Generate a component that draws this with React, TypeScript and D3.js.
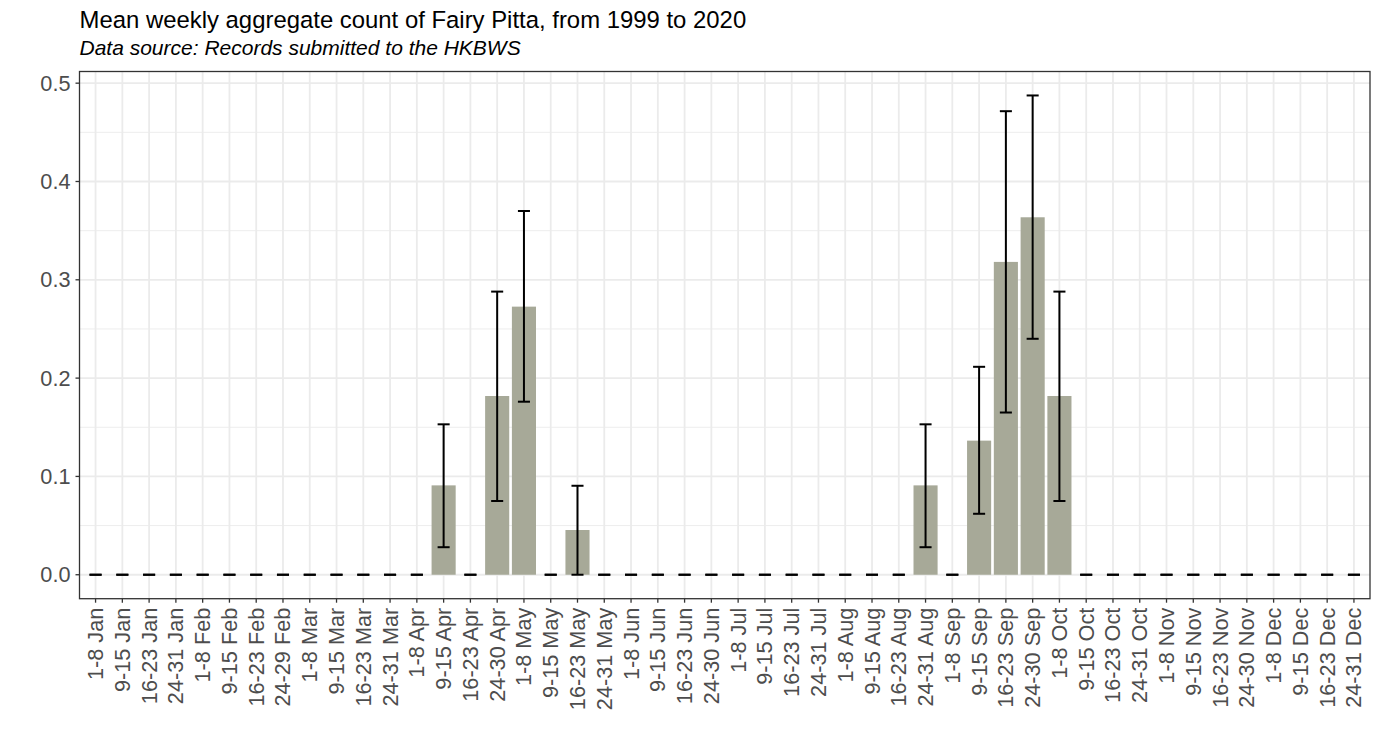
import React from "react";
import * as d3 from "d3";

const weeks: string[] = [
  "1-8 Jan", "9-15 Jan", "16-23 Jan", "24-31 Jan",
  "1-8 Feb", "9-15 Feb", "16-23 Feb", "24-29 Feb",
  "1-8 Mar", "9-15 Mar", "16-23 Mar", "24-31 Mar",
  "1-8 Apr", "9-15 Apr", "16-23 Apr", "24-30 Apr",
  "1-8 May", "9-15 May", "16-23 May", "24-31 May",
  "1-8 Jun", "9-15 Jun", "16-23 Jun", "24-30 Jun",
  "1-8 Jul", "9-15 Jul", "16-23 Jul", "24-31 Jul",
  "1-8 Aug", "9-15 Aug", "16-23 Aug", "24-31 Aug",
  "1-8 Sep", "9-15 Sep", "16-23 Sep", "24-30 Sep",
  "1-8 Oct", "9-15 Oct", "16-23 Oct", "24-31 Oct",
  "1-8 Nov", "9-15 Nov", "16-23 Nov", "24-30 Nov",
  "1-8 Dec", "9-15 Dec", "16-23 Dec", "24-31 Dec",
];

// mean weekly count (non-zero weeks), others zero
const means: number[] = [
  0, 0, 0, 0, 0, 0, 0, 0, 0, 0, 0, 0,
  0, 0.0909, 0, 0.1818, 0.2727, 0, 0.0455, 0,
  0, 0, 0, 0, 0, 0, 0, 0,
  0, 0, 0, 0.0909, 0, 0.1364, 0.3182, 0.3636, 0.1818, 0, 0, 0,
  0, 0, 0, 0, 0, 0, 0, 0,
];

const errLow: number[] = [
  0, 0, 0, 0, 0, 0, 0, 0, 0, 0, 0, 0,
  0, 0.028, 0, 0.075, 0.176, 0, 0, 0,
  0, 0, 0, 0, 0, 0, 0, 0,
  0, 0, 0, 0.028, 0, 0.062, 0.165, 0.240, 0.075, 0, 0, 0,
  0, 0, 0, 0, 0, 0, 0, 0,
];

const errHigh: number[] = [
  0, 0, 0, 0, 0, 0, 0, 0, 0, 0, 0, 0,
  0, 0.153, 0, 0.288, 0.370, 0, 0.0905, 0,
  0, 0, 0, 0, 0, 0, 0, 0,
  0, 0, 0, 0.153, 0, 0.2115, 0.4715, 0.4875, 0.288, 0, 0, 0,
  0, 0, 0, 0, 0, 0, 0, 0,
];

const yTicks: number[] = [0, 0.1, 0.2, 0.3, 0.4, 0.5];
const yMinor: number[] = [0.05, 0.15, 0.25, 0.35, 0.45];

const title = "Mean weekly aggregate count of Fairy Pitta, from 1999 to 2020";
const subtitle = "Data source: Records submitted to the HKBWS";

export default function App() {
  const W = 1380;
  const H = 751;
  const left = 79.5;
  const right = 1370;
  const top = 71.5;
  const bottom = 598.7;

  const x = d3.scalePoint<string>().domain(weeks).range([left, right]).padding(0.6);
  const step = x.step();

  const yMaxData = d3.max(errHigh) as number;
  const yMinData = 0;
  const span = yMaxData - yMinData;
  const y = d3
    .scaleLinear()
    .domain([yMinData - span * 0.05, yMaxData + span * 0.05])
    .range([bottom, top]);

  const barW = step * 0.9;
  const capW = step * 0.45;
  const font = "'Liberation Sans', Arial, sans-serif";
  const axisCol = "#4d4d4d";

  return (
    <svg
      width={W}
      height={H}
      style={{ position: "absolute", left: 0, top: 0, background: "#fff" }}
      fontFamily={font}
    >
      <rect x={0} y={0} width={W} height={H} fill="#ffffff" />
      <text x={left} y={27.5} fontSize={23.9} fill="#000">
        {title}
      </text>
      <text x={left} y={55} fontSize={21} fontStyle="italic" fill="#000">
        {subtitle}
      </text>

      {/* grid */}
      <g>
        {yMinor.map((v) => (
          <line key={"mn" + v} x1={left} x2={right} y1={y(v)} y2={y(v)} stroke="#ebebeb" strokeWidth={0.9} />
        ))}
        {yTicks.map((v) => (
          <line key={"mj" + v} x1={left} x2={right} y1={y(v)} y2={y(v)} stroke="#ebebeb" strokeWidth={1.8} />
        ))}
        {weeks.map((w) => (
          <line key={"gx" + w} x1={x(w)} x2={x(w)} y1={top} y2={bottom} stroke="#ebebeb" strokeWidth={1.8} />
        ))}
      </g>

      {/* bars */}
      <g>
        {weeks.map((w, i) =>
          means[i] > 0 ? (
            <rect
              key={"b" + w}
              x={(x(w) as number) - barW / 2}
              y={y(means[i])}
              width={barW}
              height={y(0) - y(means[i])}
              fill="#a7a998"
            />
          ) : null
        )}
      </g>

      {/* error bars */}
      <g stroke="#000" strokeWidth={2}>
        {weeks.map((w, i) => {
          const cx = x(w) as number;
          const lo = y(errLow[i]);
          const hi = y(errHigh[i]);
          return (
            <g key={"e" + w}>
              {errHigh[i] > errLow[i] ? <line x1={cx} x2={cx} y1={lo} y2={hi} /> : null}
              <line x1={cx - capW / 2} x2={cx + capW / 2} y1={hi} y2={hi} />
              <line x1={cx - capW / 2} x2={cx + capW / 2} y1={lo} y2={lo} />
            </g>
          );
        })}
      </g>

      {/* panel border */}
      <rect x={left} y={top} width={right - left} height={bottom - top} fill="none" stroke="#333333" strokeWidth={1.3} />

      {/* y axis */}
      <g>
        {yTicks.map((v) => (
          <g key={"yt" + v}>
            <line x1={left - 4} x2={left} y1={y(v)} y2={y(v)} stroke="#333333" strokeWidth={1.3} />
            <text
              x={left - 9}
              y={y(v)}
              fontSize={21.7}
              fill={axisCol}
              textAnchor="end"
              dominantBaseline="central"
            >
              {d3.format(".1f")(v)}
            </text>
          </g>
        ))}
      </g>

      {/* x axis */}
      <g>
        {weeks.map((w) => {
          const cx = x(w) as number;
          return (
            <g key={"xt" + w}>
              <line x1={cx} x2={cx} y1={bottom} y2={bottom + 4} stroke="#333333" strokeWidth={1.3} />
              <text
                transform={`translate(${cx},${bottom + 9}) rotate(-90)`}
                fontSize={21.7}
                fill={axisCol}
                textAnchor="end"
                dominantBaseline="central"
              >
                {w}
              </text>
            </g>
          );
        })}
      </g>
    </svg>
  );
}
